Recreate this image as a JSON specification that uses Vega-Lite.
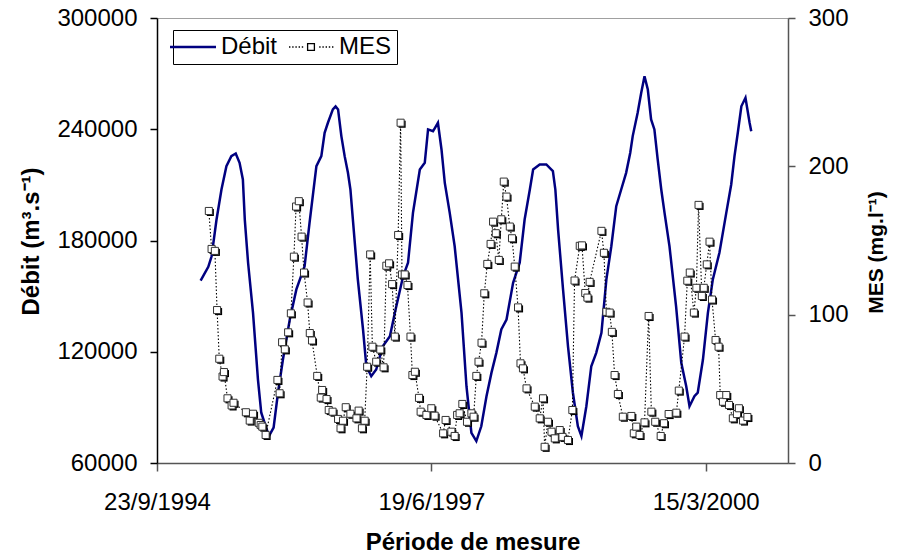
{
  "$schema": "https://vega.github.io/schema/vega-lite/v6.json",
  "autosize": {"type": "none"},
  "width": 631,
  "height": 445,
  "padding": {"left": 157, "top": 18, "right": 111, "bottom": 92},
  "background": "white",
  "config": {
    "font": "Liberation Sans",
    "view": {"stroke": "#a0a0a0", "strokeWidth": 1},
    "axis": {
      "grid": false,
      "labelFont": "Liberation Sans",
      "labelFontSize": 24,
      "labelColor": "black",
      "titleFont": "Liberation Sans",
      "titleFontSize": 24,
      "titleFontWeight": "bold",
      "titleColor": "black",
      "domainWidth": 1.5,
      "tickWidth": 1.5
    },
    "legend": {
      "labelFont": "Liberation Sans",
      "labelFontSize": 24,
      "labelColor": "black"
    }
  },
  "datasets": {
    "debit": [
      {"date": "1995-03-01", "debit": 158400},
      {"date": "1995-03-29", "debit": 165800},
      {"date": "1995-04-10", "debit": 171500},
      {"date": "1995-04-28", "debit": 191300},
      {"date": "1995-05-16", "debit": 207500},
      {"date": "1995-06-03", "debit": 220100},
      {"date": "1995-06-21", "debit": 225500},
      {"date": "1995-07-07", "debit": 226900},
      {"date": "1995-07-21", "debit": 221900},
      {"date": "1995-08-02", "debit": 212900},
      {"date": "1995-08-09", "debit": 191300},
      {"date": "1995-08-21", "debit": 168000},
      {"date": "1995-09-08", "debit": 141000},
      {"date": "1995-09-26", "debit": 105000},
      {"date": "1995-10-08", "debit": 87100},
      {"date": "1995-10-20", "debit": 81700},
      {"date": "1995-11-05", "debit": 74500},
      {"date": "1995-11-22", "debit": 79100},
      {"date": "1995-12-08", "debit": 97900},
      {"date": "1995-12-26", "debit": 115800},
      {"date": "1996-01-20", "debit": 137400},
      {"date": "1996-02-13", "debit": 153600},
      {"date": "1996-03-14", "debit": 166100},
      {"date": "1996-04-01", "debit": 189500},
      {"date": "1996-04-26", "debit": 220100},
      {"date": "1996-05-14", "debit": 225500},
      {"date": "1996-05-26", "debit": 238100},
      {"date": "1996-06-07", "debit": 243500},
      {"date": "1996-06-25", "debit": 250700},
      {"date": "1996-07-05", "debit": 252300},
      {"date": "1996-07-14", "debit": 250700},
      {"date": "1996-07-26", "debit": 236300},
      {"date": "1996-08-07", "debit": 225500},
      {"date": "1996-08-19", "debit": 216500},
      {"date": "1996-08-28", "debit": 207500},
      {"date": "1996-09-06", "debit": 191300},
      {"date": "1996-09-24", "debit": 159000},
      {"date": "1996-10-13", "debit": 132000},
      {"date": "1996-10-25", "debit": 112200},
      {"date": "1996-11-12", "debit": 106800},
      {"date": "1996-11-30", "debit": 110400},
      {"date": "1996-12-24", "debit": 123000},
      {"date": "1997-01-19", "debit": 128400},
      {"date": "1997-02-06", "debit": 141000},
      {"date": "1997-03-08", "debit": 160700},
      {"date": "1997-03-26", "debit": 168000},
      {"date": "1997-04-13", "debit": 194900},
      {"date": "1997-05-08", "debit": 218300},
      {"date": "1997-05-26", "debit": 221900},
      {"date": "1997-06-07", "debit": 239900},
      {"date": "1997-06-25", "debit": 238900},
      {"date": "1997-07-13", "debit": 243500},
      {"date": "1997-07-26", "debit": 229100},
      {"date": "1997-08-07", "debit": 211100},
      {"date": "1997-08-25", "debit": 194900},
      {"date": "1997-09-12", "debit": 176900},
      {"date": "1997-10-07", "debit": 141000},
      {"date": "1997-10-25", "debit": 101400},
      {"date": "1997-11-12", "debit": 76300},
      {"date": "1997-11-30", "debit": 71800},
      {"date": "1997-12-18", "debit": 79800},
      {"date": "1998-01-06", "debit": 96000},
      {"date": "1998-01-24", "debit": 108600},
      {"date": "1998-02-11", "debit": 119400},
      {"date": "1998-03-01", "debit": 132000},
      {"date": "1998-03-20", "debit": 137400},
      {"date": "1998-04-13", "debit": 157200},
      {"date": "1998-05-07", "debit": 168000},
      {"date": "1998-05-25", "debit": 191300},
      {"date": "1998-06-13", "debit": 207500},
      {"date": "1998-06-25", "debit": 218300},
      {"date": "1998-07-19", "debit": 221000},
      {"date": "1998-08-12", "debit": 221000},
      {"date": "1998-09-05", "debit": 217400},
      {"date": "1998-09-14", "debit": 207500},
      {"date": "1998-09-24", "debit": 185900},
      {"date": "1998-10-12", "debit": 153600},
      {"date": "1998-10-30", "debit": 123000},
      {"date": "1998-11-17", "debit": 97900},
      {"date": "1998-12-05", "debit": 79800},
      {"date": "1998-12-18", "debit": 74500},
      {"date": "1999-01-05", "debit": 90600},
      {"date": "1999-01-23", "debit": 112200},
      {"date": "1999-02-10", "debit": 119400},
      {"date": "1999-03-01", "debit": 130200},
      {"date": "1999-03-19", "debit": 159000},
      {"date": "1999-04-06", "debit": 176900},
      {"date": "1999-04-24", "debit": 198500},
      {"date": "1999-05-12", "debit": 207500},
      {"date": "1999-05-30", "debit": 216500},
      {"date": "1999-06-14", "debit": 227300},
      {"date": "1999-06-23", "debit": 236300},
      {"date": "1999-07-11", "debit": 248900},
      {"date": "1999-07-24", "debit": 259700},
      {"date": "1999-08-05", "debit": 268600},
      {"date": "1999-08-17", "debit": 261400},
      {"date": "1999-08-29", "debit": 245300},
      {"date": "1999-09-10", "debit": 239900},
      {"date": "1999-09-22", "debit": 223700},
      {"date": "1999-10-05", "debit": 207500},
      {"date": "1999-10-17", "debit": 194900},
      {"date": "1999-11-04", "debit": 176900},
      {"date": "1999-11-28", "debit": 144600},
      {"date": "1999-12-17", "debit": 114000},
      {"date": "2000-01-04", "debit": 101400},
      {"date": "2000-01-16", "debit": 90600},
      {"date": "2000-02-03", "debit": 96000},
      {"date": "2000-02-15", "debit": 97900},
      {"date": "2000-03-05", "debit": 115800},
      {"date": "2000-03-23", "debit": 141000},
      {"date": "2000-04-10", "debit": 159000},
      {"date": "2000-05-04", "debit": 173400},
      {"date": "2000-05-29", "debit": 194900},
      {"date": "2000-06-16", "debit": 210200},
      {"date": "2000-06-28", "debit": 225500},
      {"date": "2000-07-10", "debit": 238100},
      {"date": "2000-07-23", "debit": 252400},
      {"date": "2000-08-07", "debit": 257000},
      {"date": "2000-08-16", "debit": 248900},
      {"date": "2000-08-22", "debit": 243500},
      {"date": "2000-08-28", "debit": 238900}
    ],
    "mes": [
      {"date": "1995-03-31", "mes": 169.9},
      {"date": "1995-04-10", "mes": 144.3},
      {"date": "1995-04-22", "mes": 143.0},
      {"date": "1995-04-30", "mes": 103.1},
      {"date": "1995-05-08", "mes": 70.3},
      {"date": "1995-05-20", "mes": 58.3},
      {"date": "1995-05-25", "mes": 61.3},
      {"date": "1995-06-07", "mes": 43.6},
      {"date": "1995-06-22", "mes": 38.8},
      {"date": "1995-06-29", "mes": 40.6},
      {"date": "1995-08-13", "mes": 34.2},
      {"date": "1995-08-27", "mes": 28.6},
      {"date": "1995-09-08", "mes": 33.2},
      {"date": "1995-09-29", "mes": 27.1},
      {"date": "1995-10-06", "mes": 25.6},
      {"date": "1995-10-12", "mes": 24.5},
      {"date": "1995-10-24", "mes": 18.9},
      {"date": "1995-12-06", "mes": 56.0},
      {"date": "1995-12-14", "mes": 47.0},
      {"date": "1995-12-23", "mes": 81.4},
      {"date": "1996-01-02", "mes": 76.6},
      {"date": "1996-01-14", "mes": 88.1},
      {"date": "1996-01-24", "mes": 100.9},
      {"date": "1996-02-04", "mes": 139.1},
      {"date": "1996-02-12", "mes": 172.9},
      {"date": "1996-02-22", "mes": 176.5},
      {"date": "1996-03-03", "mes": 152.6},
      {"date": "1996-03-12", "mes": 128.4},
      {"date": "1996-03-25", "mes": 108.2},
      {"date": "1996-04-02", "mes": 87.6},
      {"date": "1996-04-10", "mes": 82.6},
      {"date": "1996-04-29", "mes": 58.7},
      {"date": "1996-05-12", "mes": 44.1},
      {"date": "1996-05-17", "mes": 49.2},
      {"date": "1996-06-02", "mes": 43.1},
      {"date": "1996-06-10", "mes": 35.7},
      {"date": "1996-06-24", "mes": 34.6},
      {"date": "1996-07-14", "mes": 29.7},
      {"date": "1996-07-23", "mes": 23.4},
      {"date": "1996-08-01", "mes": 28.5},
      {"date": "1996-08-11", "mes": 37.6},
      {"date": "1996-08-28", "mes": 33.2},
      {"date": "1996-09-19", "mes": 30.1},
      {"date": "1996-09-27", "mes": 35.3},
      {"date": "1996-10-09", "mes": 23.4},
      {"date": "1996-10-19", "mes": 28.5},
      {"date": "1996-10-28", "mes": 64.9},
      {"date": "1996-11-08", "mes": 140.6},
      {"date": "1996-11-16", "mes": 78.4},
      {"date": "1996-11-30", "mes": 68.3},
      {"date": "1996-12-15", "mes": 76.5},
      {"date": "1996-12-27", "mes": 64.5},
      {"date": "1997-01-06", "mes": 133.0},
      {"date": "1997-01-16", "mes": 134.6},
      {"date": "1997-01-27", "mes": 120.6},
      {"date": "1997-02-06", "mes": 85.2},
      {"date": "1997-02-18", "mes": 153.7},
      {"date": "1997-02-27", "mes": 229.4},
      {"date": "1997-03-04", "mes": 127.1},
      {"date": "1997-03-14", "mes": 127.1},
      {"date": "1997-03-24", "mes": 120.0},
      {"date": "1997-04-04", "mes": 85.2},
      {"date": "1997-04-11", "mes": 59.3},
      {"date": "1997-04-20", "mes": 61.5},
      {"date": "1997-05-05", "mes": 43.9},
      {"date": "1997-05-11", "mes": 34.6},
      {"date": "1997-06-01", "mes": 32.4},
      {"date": "1997-06-19", "mes": 36.9},
      {"date": "1997-07-01", "mes": 31.9},
      {"date": "1997-08-01", "mes": 20.0},
      {"date": "1997-08-10", "mes": 29.0},
      {"date": "1997-08-31", "mes": 21.1},
      {"date": "1997-09-12", "mes": 18.2},
      {"date": "1997-09-21", "mes": 32.4},
      {"date": "1997-09-30", "mes": 33.5},
      {"date": "1997-10-10", "mes": 39.8},
      {"date": "1997-10-27", "mes": 27.8},
      {"date": "1997-11-12", "mes": 33.5},
      {"date": "1997-11-20", "mes": 31.2},
      {"date": "1997-11-30", "mes": 58.7},
      {"date": "1997-12-08", "mes": 68.3},
      {"date": "1997-12-19", "mes": 81.1},
      {"date": "1997-12-29", "mes": 114.4},
      {"date": "1998-01-09", "mes": 134.2},
      {"date": "1998-01-21", "mes": 147.7},
      {"date": "1998-01-30", "mes": 162.7},
      {"date": "1998-02-09", "mes": 154.9},
      {"date": "1998-02-20", "mes": 136.9},
      {"date": "1998-03-01", "mes": 164.3},
      {"date": "1998-03-10", "mes": 189.7},
      {"date": "1998-03-20", "mes": 179.6},
      {"date": "1998-04-01", "mes": 159.4},
      {"date": "1998-04-09", "mes": 151.5},
      {"date": "1998-04-19", "mes": 132.4},
      {"date": "1998-05-01", "mes": 104.9},
      {"date": "1998-05-10", "mes": 67.2},
      {"date": "1998-05-19", "mes": 63.8},
      {"date": "1998-06-01", "mes": 50.3},
      {"date": "1998-07-01", "mes": 38.0},
      {"date": "1998-07-19", "mes": 30.1},
      {"date": "1998-07-31", "mes": 43.6},
      {"date": "1998-08-06", "mes": 10.9},
      {"date": "1998-08-18", "mes": 27.8},
      {"date": "1998-08-31", "mes": 21.1},
      {"date": "1998-09-12", "mes": 16.6},
      {"date": "1998-09-30", "mes": 22.2},
      {"date": "1998-10-10", "mes": 17.6},
      {"date": "1998-10-30", "mes": 15.5},
      {"date": "1998-11-15", "mes": 35.7},
      {"date": "1998-11-23", "mes": 123.0},
      {"date": "1998-12-12", "mes": 146.4},
      {"date": "1998-12-20", "mes": 146.7},
      {"date": "1999-01-01", "mes": 114.6},
      {"date": "1999-01-09", "mes": 111.5},
      {"date": "1999-01-17", "mes": 122.1},
      {"date": "1999-03-01", "mes": 156.5},
      {"date": "1999-03-10", "mes": 141.7},
      {"date": "1999-03-19", "mes": 101.9},
      {"date": "1999-03-31", "mes": 101.4},
      {"date": "1999-04-08", "mes": 88.4},
      {"date": "1999-04-18", "mes": 59.3},
      {"date": "1999-04-30", "mes": 46.5},
      {"date": "1999-05-18", "mes": 31.2},
      {"date": "1999-06-18", "mes": 31.7},
      {"date": "1999-06-27", "mes": 20.0},
      {"date": "1999-07-06", "mes": 24.5},
      {"date": "1999-07-18", "mes": 18.9},
      {"date": "1999-08-05", "mes": 27.4},
      {"date": "1999-08-20", "mes": 99.1},
      {"date": "1999-08-30", "mes": 34.6},
      {"date": "1999-09-13", "mes": 27.8},
      {"date": "1999-10-03", "mes": 18.2},
      {"date": "1999-10-15", "mes": 26.8},
      {"date": "1999-11-01", "mes": 33.0},
      {"date": "1999-11-29", "mes": 33.9},
      {"date": "1999-12-08", "mes": 48.8},
      {"date": "1999-12-29", "mes": 85.2},
      {"date": "2000-01-08", "mes": 122.9},
      {"date": "2000-01-17", "mes": 128.4},
      {"date": "2000-02-01", "mes": 101.4},
      {"date": "2000-02-10", "mes": 118.1},
      {"date": "2000-02-18", "mes": 174.0},
      {"date": "2000-03-01", "mes": 112.6},
      {"date": "2000-03-08", "mes": 118.1},
      {"date": "2000-03-19", "mes": 133.9},
      {"date": "2000-03-29", "mes": 149.2},
      {"date": "2000-04-07", "mes": 110.2},
      {"date": "2000-04-20", "mes": 82.9},
      {"date": "2000-05-01", "mes": 78.4},
      {"date": "2000-05-07", "mes": 45.8},
      {"date": "2000-05-17", "mes": 41.3},
      {"date": "2000-05-29", "mes": 45.8},
      {"date": "2000-06-08", "mes": 39.1},
      {"date": "2000-06-22", "mes": 30.1},
      {"date": "2000-07-07", "mes": 33.0},
      {"date": "2000-07-14", "mes": 36.9},
      {"date": "2000-07-29", "mes": 28.6},
      {"date": "2000-08-14", "mes": 31.0}
    ]
  },
  "encoding": {
    "x": {
      "field": "date",
      "type": "temporal",
      "scale": {
        "type": "utc",
        "domain": [
          {"year": 1994, "month": 9, "date": 23, "utc": true},
          {"year": 2001, "month": 1, "date": 9, "utc": true}
        ]
      },
      "axis": {
        "title": "Période de mesure",
        "values": [
          {"year": 1994, "month": 9, "date": 23, "utc": true},
          {"year": 1997, "month": 6, "date": 19, "utc": true},
          {"year": 2000, "month": 3, "date": 15, "utc": true}
        ],
        "labelExpr": "utcFormat(datum.value, '%-d/%-m/%Y')",
        "domainColor": "#555555",
        "tickColor": "#555555",
        "tickSize": 8,
        "labelPadding": 19,
        "labelFlush": false,
        "labelOverlap": false,
        "titleBaseline": "alphabetic",
        "titleY": 86
      }
    }
  },
  "layer": [
    {
      "data": {"name": "debit"},
      "mark": {"type": "line", "strokeWidth": 2.5, "interpolate": "linear"},
      "encoding": {
        "y": {
          "field": "debit",
          "type": "quantitative",
          "scale": {"domain": [60000, 300000], "nice": false, "zero": false},
          "axis": {
            "orient": "left",
            "title": "Débit (m³.s⁻¹)",
            "values": [60000, 120000, 180000, 240000, 300000],
            "format": "d",
            "domainColor": "black",
            "tickColor": "black",
            "tickSize": 7,
            "labelPadding": 13,
            "titleAngle": -90,
            "titleBaseline": "alphabetic",
            "titleX": -119,
            "titleY": 223
          }
        },
        "color": {
          "datum": "Débit",
          "type": "nominal",
          "scale": {"domain": ["Débit", "MES"], "range": ["#000080", "#000000"]},
          "legend": {
            "title": null,
            "orient": "none",
            "legendX": 16,
            "legendY": 12,
            "direction": "horizontal",
            "columns": 2,
            "padding": 5,
            "strokeColor": "#000000",
            "fillColor": "white",
            "symbolSize": 1600,
            "labelOffset": 19,
            "columnPadding": 8,
            "encode": {
              "symbols": {
                "update": {
                  "shape": {"signal": "datum.value === 'MES' ? 'M-0.95,0h0.07M-0.79,0h0.07M-0.63,0h0.07M-0.47,0h0.07M-0.31,0h0.07M0.56,0h0.07M0.72,0h0.07M0.88,0h0.07M1.04,0h0.07M1.2,0h0.07M-0.02,-0.17H0.32V0.17H-0.02Z' : 'M-1,0H1.3'"},
                  "fill": {"signal": "datum.value === 'MES' ? 'white' : 'transparent'"},
                  "strokeWidth": {"signal": "datum.value === 'MES' ? 1.3 : 2.5"},
                  "strokeDash": {"value": [1, 0]},
                  "opacity": {"value": 1}
                }
              }
            }
          }
        }
      }
    },
    {
      "data": {"name": "mes"},
      "encoding": {
        "y": {
          "field": "mes",
          "type": "quantitative",
          "scale": {"domain": [0, 300], "nice": false},
          "axis": {
            "orient": "right",
            "title": "MES (mg.l⁻¹)",
            "values": [0, 100, 200, 300],
            "domainColor": "#555555",
            "tickColor": "#555555",
            "tickSize": 7,
            "labelPadding": 13,
            "titleAngle": -90,
            "titleBaseline": "alphabetic",
            "titleFontSize": 21,
            "titleX": 94,
            "titleY": 234
          }
        }
      },
      "layer": [
        {
          "mark": {"type": "line", "strokeWidth": 1.1, "strokeDash": [1.5, 2]},
          "encoding": {
            "color": {"datum": "MES", "type": "nominal"}
          }
        },
        {
          "mark": {"type": "point", "shape": "square", "filled": true, "color": "black", "size": 50, "opacity": 1, "xOffset": 1.5, "yOffset": 1.5},
          "encoding": {}
        },
        {
          "mark": {"type": "point", "shape": "square", "filled": true, "fill": "white", "stroke": "#333333", "strokeWidth": 1, "size": 50, "opacity": 1},
          "encoding": {}
        }
      ]
    }
  ],
  "resolve": {"scale": {"y": "independent"}}
}
